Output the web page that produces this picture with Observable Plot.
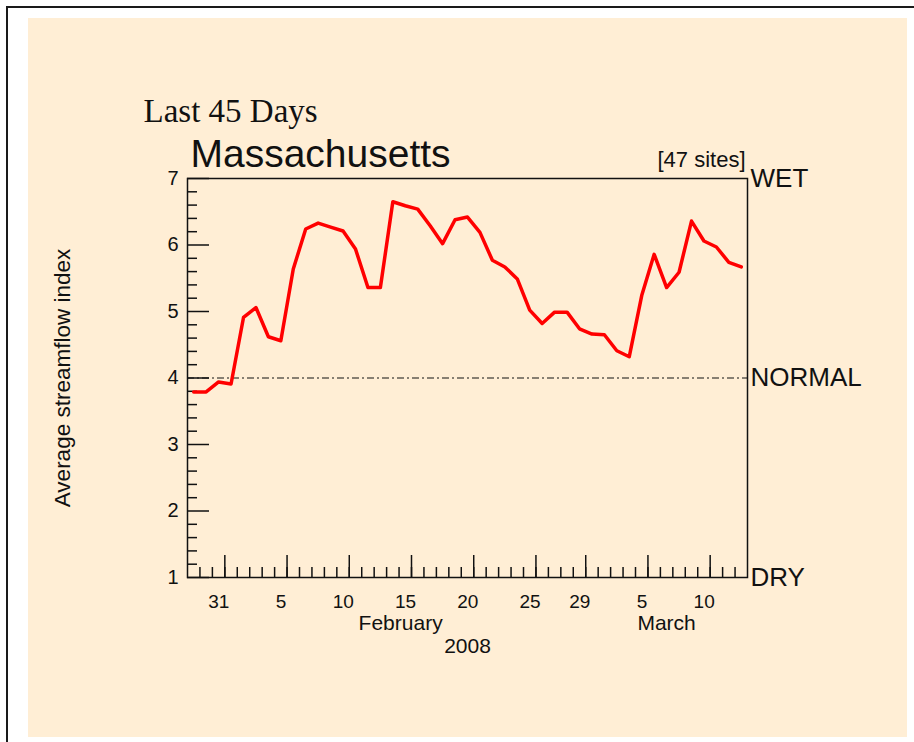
<!DOCTYPE html>
<html>
<head>
<meta charset="utf-8">
<script src="https://cdn.jsdelivr.net/npm/d3@7"></script>
<script src="https://cdn.jsdelivr.net/npm/@observablehq/plot@0.6"></script>
<style>
  html, body { margin: 0; padding: 0; background: #ffffff; }
  #page { position: relative; width: 914px; height: 742px; overflow: hidden; }
  #borderTop { position: absolute; left: 6px; top: 6px; width: 908px; height: 2px; background: #1a1a1a; }
  #borderLeft { position: absolute; left: 6px; top: 6px; width: 2px; height: 736px; background: #1a1a1a; }
  #cream { position: absolute; left: 28px; top: 18px; width: 879px; height: 719px; background: #FFEED5; }
  #chart { position: absolute; left: 0; top: 0; }
  #chart svg { background: transparent !important; overflow: visible; }
</style>
</head>
<body>
<div id="page">
  <div id="borderTop"></div>
  <div id="borderLeft"></div>
  <div id="cream"></div>
  <div id="chart"></div>
</div>
<script>
// ---- Data (daily average streamflow index, Massachusetts, 47 sites) ----
const startDate = "2008-01-28"; // first day of the 45-day window
const streamflowIndex = [
  3.79, 3.79, 3.94, 3.91, 4.91, 5.06, 4.62, 4.56, 5.64, 6.24,
  6.33, 6.27, 6.21, 5.94, 5.36, 5.36, 6.65, 6.59, 6.54, 6.29,
  6.02, 6.38, 6.42, 6.19, 5.77, 5.67, 5.49, 5.02, 4.82, 4.99,
  4.99, 4.74, 4.66, 4.65, 4.41, 4.32, 5.24, 5.86, 5.36, 5.59,
  6.36, 6.06, 5.97, 5.74, 5.67
];
const normalLevel = 4;

// ---- Axis / tick labels ----
const yTickValues = [1, 2, 3, 4, 5, 6, 7];
const yStateLabels = ["DRY", "NORMAL", "WET"];
const yStateValues = [1, 4, 7];
const xLabelDates = ["2008-01-31", "2008-02-05", "2008-02-10", "2008-02-15", "2008-02-20",
                     "2008-02-25", "2008-02-29", "2008-03-05", "2008-03-10"];
const xLabelTexts = ["31", "5", "10", "15", "20", "25", "29", "5", "10"];
const monthLabels = ["February", "March"];
const monthLabelDates = ["2008-02-14T03:00Z", "2008-03-06T12:00Z"];
const yearLabel = "2008";
const yearLabelDate = "2008-02-19T12:00Z";
const titleText = "Last 45 Days";
const stateText = "Massachusetts";
const sitesText = "[47 sites]";
const yAxisTitle = "Average streamflow index";

// ---- Build tables ----
const start = new Date(startDate + "T00:00Z");
const end = d3.utcDay.offset(start, streamflowIndex.length);
const series = streamflowIndex.map((v, i) => ({
  date: d3.utcHour.offset(d3.utcDay.offset(start, i), 12),
  value: v
}));
const dayTicks = d3.utcDay.range(d3.utcDay.offset(start, 1), end);
const majorDates = xLabelDates.map(s => new Date(s + "T00:00Z"));
const xLabels = majorDates.map((d, i) => ({date: d, text: xLabelTexts[i]}));
const yMinor = d3.range(1, 7.001, 0.2).map(v => Math.round(v * 10) / 10).filter(v => !Number.isInteger(v));
const states = yStateValues.map((v, i) => ({y: v, text: yStateLabels[i]}));
const months = monthLabels.map((m, i) => ({date: new Date(monthLabelDates[i]), text: m}));

const W = 914, H = 742;
const mL = 187, mR = 167, mT = 178, mB = 165;
const fw = W - mL - mR, fh = H - mT - mB;
const ink = "#111";

const chart = Plot.plot({
  width: W,
  height: H,
  marginLeft: mL,
  marginRight: mR,
  marginTop: mT,
  marginBottom: mB,
  style: {fontFamily: "'Liberation Sans', Arial, sans-serif", background: "transparent", color: ink},
  x: {type: "utc", domain: [start, end], axis: null},
  y: {domain: [1, 7], axis: null},
  marks: [
    // y tick marks (inward)
    Plot.tickY(yTickValues, {y: d => d, insetRight: fw - 22, stroke: ink, strokeWidth: 1.5}),
    Plot.tickY(yMinor, {y: d => d, insetRight: fw - 10, stroke: ink, strokeWidth: 1.5}),
    // x tick marks (inward)
    Plot.tickX(dayTicks, {x: d => d, insetTop: fh - 10, stroke: ink, strokeWidth: 1.5}),
    Plot.tickX(majorDates, {x: d => d, insetTop: fh - 22, stroke: ink, strokeWidth: 1.5}),
    // normal reference line
    Plot.ruleY([normalLevel], {stroke: ink, strokeWidth: 1.2, strokeDasharray: "7,3,2,3"}),
    Plot.frame({stroke: ink, strokeWidth: 1.5}),
    // data line
    Plot.line(series, {x: "date", y: "value", stroke: "#ff0000", strokeWidth: 3.5, strokeLinejoin: "round"}),
    // y tick labels
    Plot.text(yTickValues, {y: d => d, text: d => String(d), frameAnchor: "left", dx: -9, textAnchor: "end", lineAnchor: "middle", fontSize: 20, fill: ink}),
    // WET / NORMAL / DRY
    Plot.text(states, {y: "y", text: "text", frameAnchor: "right", dx: 3, textAnchor: "start", lineAnchor: "middle", fontSize: 26, fill: ink}),
    // x tick labels
    Plot.text(xLabels, {x: "date", text: "text", frameAnchor: "bottom", dy: 24, dx: -6, lineAnchor: "middle", textAnchor: "middle", fontSize: 19, fill: ink}),
    Plot.text(months, {x: "date", text: "text", frameAnchor: "bottom", dy: 46, lineAnchor: "middle", textAnchor: "middle", fontSize: 21, fill: ink}),
    Plot.text([yearLabel], {x: () => new Date(yearLabelDate), text: d => d, frameAnchor: "bottom", dy: 69, lineAnchor: "middle", textAnchor: "middle", fontSize: 21, fill: ink}),
    // y axis title
    Plot.text([yAxisTitle], {text: d => d, frameAnchor: "left", dx: -125, rotate: -90, textAnchor: "middle", lineAnchor: "middle", fontSize: 22.5, fill: ink}),
    // titles
    Plot.text([titleText], {text: d => d, frameAnchor: "top-left", dx: -44, dy: -67, textAnchor: "start", lineAnchor: "middle", fontSize: 33, fontFamily: "'Liberation Serif', 'Times New Roman', serif", fill: ink}),
    Plot.text([stateText], {text: d => d, frameAnchor: "top-left", dx: 3, dy: -24, textAnchor: "start", lineAnchor: "middle", fontSize: 39, fill: ink}),
    Plot.text([sitesText], {text: d => d, frameAnchor: "top-right", dx: -2, dy: -19, textAnchor: "end", lineAnchor: "middle", fontSize: 22, fill: ink})
  ]
});
document.getElementById("chart").appendChild(chart);
</script>
</body>
</html>
